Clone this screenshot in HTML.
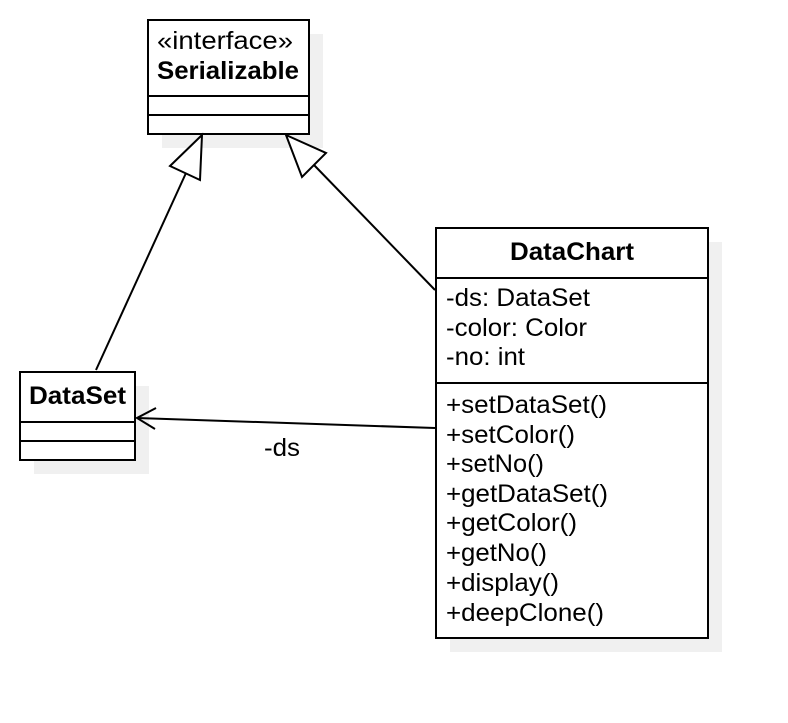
<!DOCTYPE html>
<html><head><style>
body{margin:0;background:#fff;width:788px;height:718px;overflow:hidden}
text{font-family:"Liberation Sans",sans-serif;font-size:25px;fill:#000}
</style></head><body>
<svg width="788" height="718" xmlns="http://www.w3.org/2000/svg">
<rect x="162" y="34" width="161" height="114" fill="#f0f0f0"/>
<rect x="34" y="386" width="115" height="88" fill="#f0f0f0"/>
<rect x="450" y="242" width="272" height="410" fill="#f0f0f0"/>
<g stroke="#000" stroke-width="2" fill="#fff">
<rect x="148" y="20" width="161" height="114"/>
<line x1="148" y1="96" x2="309" y2="96"/><line x1="148" y1="115" x2="309" y2="115"/>
<rect x="20" y="372" width="115" height="88"/>
<line x1="20" y1="422" x2="135" y2="422"/><line x1="20" y1="441" x2="135" y2="441"/>
<rect x="436" y="228" width="272" height="410"/>
<line x1="436" y1="278" x2="708" y2="278"/><line x1="436" y1="383" x2="708" y2="383"/>
<line x1="96" y1="370" x2="186" y2="173"/>
<polygon points="202,135 200,180 170,166"/>
<line x1="435" y1="290" x2="314" y2="165"/>
<polygon points="286,135 326,153 302,177"/>
<line x1="435" y1="428" x2="137" y2="418"/>
<polyline points="156,408 137,418 155,429" fill="none"/>
</g>
<g font-size="24">
<text x="157" y="49" textLength="136" lengthAdjust="spacingAndGlyphs">«interface»</text>
<text x="157" y="79" font-weight="bold" textLength="142" lengthAdjust="spacingAndGlyphs">Serializable</text>
<text x="29" y="404" font-weight="bold" textLength="97" lengthAdjust="spacingAndGlyphs">DataSet</text>
<text x="510" y="260" font-weight="bold" textLength="124" lengthAdjust="spacingAndGlyphs">DataChart</text>
</g>
<text x="446" y="306" textLength="144" lengthAdjust="spacingAndGlyphs">-ds: DataSet</text>
<text x="446" y="336" textLength="141" lengthAdjust="spacingAndGlyphs">-color: Color</text>
<text x="446" y="365" textLength="79" lengthAdjust="spacingAndGlyphs">-no: int</text>
<text x="446" y="413" textLength="161" lengthAdjust="spacingAndGlyphs">+setDataSet()</text>
<text x="446" y="443" textLength="129" lengthAdjust="spacingAndGlyphs">+setColor()</text>
<text x="446" y="472" textLength="98" lengthAdjust="spacingAndGlyphs">+setNo()</text>
<text x="446" y="502" textLength="162" lengthAdjust="spacingAndGlyphs">+getDataSet()</text>
<text x="446" y="531" textLength="131" lengthAdjust="spacingAndGlyphs">+getColor()</text>
<text x="446" y="561" textLength="101" lengthAdjust="spacingAndGlyphs">+getNo()</text>
<text x="446" y="591" textLength="113" lengthAdjust="spacingAndGlyphs">+display()</text>
<text x="446" y="621" textLength="158" lengthAdjust="spacingAndGlyphs">+deepClone()</text>
<text x="264" y="456" textLength="36" lengthAdjust="spacingAndGlyphs">-ds</text>
</svg>
</body></html>
